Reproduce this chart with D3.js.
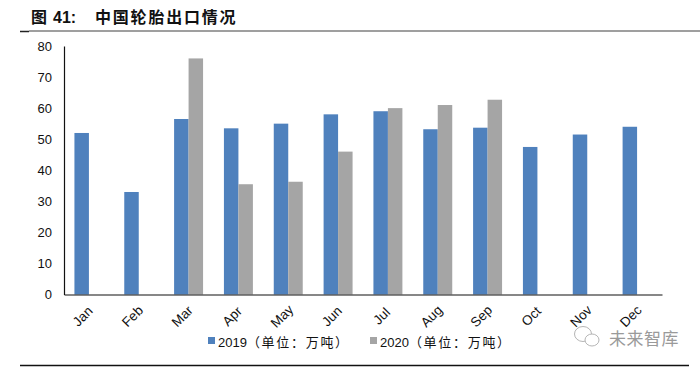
<!DOCTYPE html>
<html>
<head>
<meta charset="utf-8">
<script src="https://cdn.jsdelivr.net/npm/d3@7"></script>
<style>
  html, body { margin: 0; padding: 0; background: #fff; }
  svg { display: block; }
  text { font-family: "Liberation Sans", "Noto Sans CJK SC", sans-serif; fill: #111; }
</style>
</head>
<body>
<script>
const months = ['Jan', 'Feb', 'Mar', 'Apr', 'May', 'Jun', 'Jul', 'Aug', 'Sep', 'Oct', 'Nov', 'Dec'];
const values2019 = [52, 33, 56.5, 53.5, 55, 58, 59, 53.2, 53.7, 47.5, 51.5, 54];
const values2020 = [null, null, 76, 35.5, 36.3, 46, 60, 61, 62.7, null, null, null];
const yTicks = [0, 10, 20, 30, 40, 50, 60, 70, 80];
const seriesYears = ['2019', '2020'];
const seriesUnit = '（单位：万吨）';
const colors = ['#4f81bd', '#a5a5a5'];

const width = 700, height = 368;
const margin = { top: 46, right: 38, bottom: 73.5, left: 64 };

const svg = d3.select('body').append('svg')
    .attr('width', width)
    .attr('height', height);

// titre et filets
const label = svg.append('text')
    .attr('x', 31).attr('y', 23)
    .attr('font-size', 16).attr('font-weight', 700);
label.append('tspan').text('图');
label.append('tspan').attr('x', 53).text('41:');
svg.append('text')
    .attr('x', 95).attr('y', 23)
    .attr('font-size', 16).attr('font-weight', 700)
    .attr('letter-spacing', 1.8)
    .text('中国轮胎出口情况');
svg.append('line').attr('x1', 29).attr('x2', 700).attr('y1', 31).attr('y2', 31)
    .attr('stroke', '#7f7f7f').attr('stroke-width', 1.5);
svg.append('line').attr('x1', 20).attr('x2', 29).attr('y1', 31.5).attr('y2', 31.5)
    .attr('stroke', '#222').attr('stroke-width', 1.5);
svg.append('line').attr('x1', 20).attr('x2', 689).attr('y1', 365.5).attr('y2', 365.5)
    .attr('stroke', '#111').attr('stroke-width', 1.5);

const x = d3.scaleBand()
    .domain(months)
    .range([margin.left, width - margin.right]);

const xInner = d3.scaleBand()
    .domain([0, 1])
    .range([0, x.bandwidth()])
    .paddingOuter(0.72)
    .paddingInner(0);

const y = d3.scaleLinear()
    .domain([0, 80])
    .range([height - margin.bottom, margin.top]);

// barres
[values2019, values2020].forEach((values, i) => {
    svg.append('g')
        .selectAll('rect')
        .data(values.map((v, j) => ({ month: months[j], value: v })).filter(d => d.value !== null))
        .join('rect')
        .attr('x', d => x(d.month) + xInner(i))
        .attr('y', d => y(d.value))
        .attr('width', xInner.bandwidth())
        .attr('height', d => y(0) - y(d.value))
        .attr('fill', colors[i]);
});

// axes
const yAxis = svg.append('g')
    .attr('transform', `translate(${margin.left},0)`)
    .call(d3.axisLeft(y).tickValues(yTicks).tickSize(0).tickPadding(12));
yAxis.select('.domain').attr('stroke', '#111').attr('stroke-width', 1.2);
yAxis.selectAll('text').attr('font-size', 13).attr('font-family', '"Liberation Sans"').attr('fill', '#111');

const xAxis = svg.append('g')
    .attr('transform', `translate(0,${y(0)})`)
    .call(d3.axisBottom(x).tickSize(0).tickPadding(0));
xAxis.select('.domain').attr('stroke', '#111').attr('stroke-width', 1.2);
xAxis.selectAll('text')
    .attr('font-size', 13.5)
    .attr('font-family', '"Liberation Sans"')
    .attr('fill', '#111')
    .attr('text-anchor', 'middle')
    .attr('dy', 0)
    .attr('transform', 'translate(-3,25)rotate(-45)');

// légende
const legendX = [208, 370];
seriesYears.forEach((year, i) => {
    const g = svg.append('g').attr('transform', `translate(${legendX[i]},340)`);
    g.append('rect').attr('x', 0).attr('y', -3).attr('width', 7).attr('height', 7).attr('fill', colors[i]);
    const t = g.append('text').attr('x', 10).attr('y', 6.5).attr('font-size', 13);
    t.append('tspan').text(year);
    t.append('tspan').attr('letter-spacing', 1.7).text(seriesUnit);
});

// filigrane
const mark = svg.append('g').attr('fill', '#fff').attr('stroke', '#b5b5b5').attr('stroke-width', 1);
mark.append('ellipse').attr('cx', 583).attr('cy', 334).attr('rx', 8.5).attr('ry', 7.5);
mark.append('ellipse').attr('cx', 592).attr('cy', 340).attr('rx', 7).attr('ry', 6);
svg.append('text')
    .attr('x', 609).attr('y', 345)
    .attr('font-size', 17)
    .attr('letter-spacing', 0.5)
    .style('fill', '#9a9a9a')
    .text('未来智库');
</script>
</body>
</html>
